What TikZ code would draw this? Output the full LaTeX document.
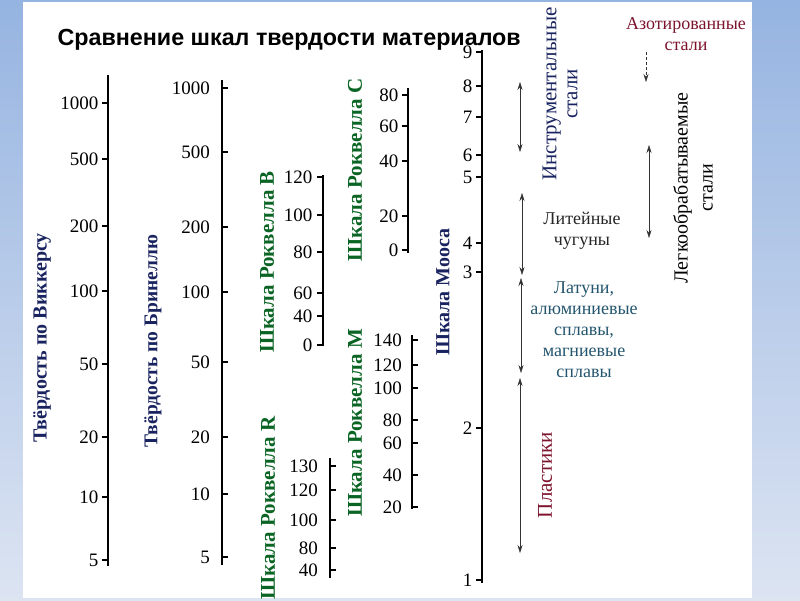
\documentclass[tikz,border=0pt]{standalone}
\usepackage{fontspec}
\setmainfont{Liberation Serif}
\newfontfamily\headfont{Liberation Sans}
\usetikzlibrary{arrows.meta,positioning}
\definecolor{navy}{RGB}{25,35,95}
\definecolor{rgreen}{RGB}{10,100,35}
\definecolor{maroon}{RGB}{125,20,45}
\definecolor{tealblue}{RGB}{35,85,110}
\definecolor{bgtop}{RGB}{150,180,225}
\definecolor{bgbot}{RGB}{220,228,242}

\begin{document}
\begin{tikzpicture}[x=1pt,y=-1pt,>={Stealth[length=8pt,width=5pt]}]
	\tikzstyle{axis}=[line width=2.2pt]
	\tikzstyle{tick}=[line width=1.4pt]
	\tikzstyle{num}=[font=\fontsize{19}{19}\selectfont,inner sep=1pt]
	\tikzstyle{scalename}=[rotate=90,font=\fontsize{21}{21}\selectfont\bfseries]
	\tikzstyle{group}=[font=\fontsize{18}{21}\selectfont,align=center]
	\tikzstyle{span}=[<->,thin,black!80]

	% background and sheet
	\fill[top color=bgtop,bottom color=bgbot] (0,0) rectangle (800,600);
	\fill[white] (23,2) rectangle (752,598);
	\useasboundingbox (0,0) rectangle (800,600);

	\node[font=\headfont\fontsize{23.3}{23}\selectfont\bfseries,anchor=west] (title) at (54,40) {Сравнение шкал твердости материалов};

	% Vickers
	\coordinate (vk-top) at (108,75);
	\coordinate (vk-bot) at (108,566);
	\draw[axis] (vk-top) -- (vk-bot);
	\foreach \v/\y in {1000/103,500/159,200/226,100/291,50/364,20/437,10/497,5/560}
		\draw[tick] (108,\y) -- ++(-6,0) node[num,left=2pt] (vk-\v) {\v};
	\node[scalename,navy,font=\fontsize{20}{20}\selectfont\bfseries] (vk-name) at (42,338) {Твёрдость по Виккерсу};

	% Brinell
	\coordinate (br-top) at (222,80);
	\coordinate (br-bot) at (222,565);
	\draw[axis] (br-top) -- (br-bot);
	\foreach \v/\y in {1000/88,500/152,200/227,100/292,50/362,20/437,10/494,5/557} {
		\draw[tick] (222,\y) -- ++(6,0);
		\node[num,anchor=east] (br-\v) at (211,\y) {\v};
	}
	\node[scalename,navy,font=\fontsize{19.5}{20}\selectfont\bfseries] (br-name) at (153,341) {Твёрдость по Бринеллю};

	% Rockwell B
	\coordinate (rb-top) at (323,175);
	\coordinate (rb-bot) at (323,346);
	\draw[axis] (rb-top) -- (rb-bot);
	\foreach \v/\y in {120/177,100/215,80/252,60/293,40/316,0/345}
		\draw[tick] (323,\y) -- ++(-6,0) node[num,left=3pt] (rb-\v) {\v};
	\node[scalename,rgreen] (rb-name) at (267,262) {Шкала Роквелла B};

	% Rockwell C
	\coordinate (rc-top) at (408,88);
	\coordinate (rc-bot) at (408,253);
	\draw[axis] (rc-top) -- (rc-bot);
	\foreach \v/\y in {80/95,60/126,40/161,20/216,0/250}
		\draw[tick] (408,\y) -- ++(-6,0) node[num,left=2pt] (rc-\v) {\v};
	\node[scalename,rgreen] (rc-name) at (355,170) {Шкала Роквелла C};

	% Rockwell R
	\coordinate (rr-top) at (330,458);
	\coordinate (rr-bot) at (330,578);
	\draw[axis] (rr-top) -- (rr-bot);
	\foreach \v/\y in {130/466,120/490,100/520,80/548,40/570} {
		\draw[tick] (330,\y) -- ++(6,0);
		\node[num,anchor=east] (rr-\v) at (319,\y) {\v};
	}
	\node[scalename,rgreen] (rr-name) at (268,508) {Шкала Роквелла R};

	% Rockwell M
	\coordinate (rm-top) at (412,335);
	\coordinate (rm-bot) at (412,509);
	\draw[axis] (rm-top) -- (rm-bot);
	\foreach \v/\y in {140/340,120/365,100/388,80/420,60/443,40/475,20/507} {
		\draw[tick] (412,\y) -- ++(6,0);
		\node[num,anchor=east] (rm-\v) at (403,\y) {\v};
	}
	\node[scalename,rgreen] (rm-name) at (355,423) {Шкала Роквелла M};

	% Mohs
	\coordinate (mo-top) at (482,50);
	\coordinate (mo-bot) at (482,583);
	\draw[axis] (mo-top) -- (mo-bot);
	\foreach \v/\y in {9/52,8/86,7/117,6/155,5/177,4/243,3/272,2/428,1/580}
		\draw[tick] (482,\y) -- ++(-6,0) node[num,left=2pt] (mo-\v) {\v};
	\node[scalename,navy,font=\fontsize{20}{20}\selectfont\bfseries] (mo-name) at (443,292) {Шкала Мооса};

	% material ranges
	\coordinate (tool-a) at (520,82);
	\coordinate (tool-b) at (520,152);
	\draw[span] (tool-a) -- (tool-b);
	\node[group,rotate=90,navy,font=\fontsize{21}{21}\selectfont] (tool) at (560,94) {Инструментальные\\стали};

	\coordinate (iron-a) at (522,193);
	\coordinate (iron-b) at (522,275);
	\draw[span] (iron-a) -- (iron-b);
	\node[group,black!85] (iron) at (582,231) {Литейные\\чугуны};

	\coordinate (brass-a) at (521,278);
	\coordinate (brass-b) at (521,373);
	\draw[span] (brass-a) -- (brass-b);
	\node[group,tealblue] (brass) at (584,330) {Латуни,\\алюминиевые\\сплавы,\\магниевые\\сплавы};

	\coordinate (plast-a) at (520,378);
	\coordinate (plast-b) at (520,553);
	\draw[span] (plast-a) -- (plast-b);
	\node[group,rotate=90,maroon,font=\fontsize{21}{21}\selectfont] (plast) at (545,475) {Пластики};

	\node[group,maroon] (nitr) at (686,34) {Азотированные\\стали};
	\coordinate (nitr-a) at (646,52);
	\coordinate (nitr-b) at (646,82);
	\draw[->,thin,black!80,densely dashed] (nitr-a) -- (nitr-b);

	\coordinate (free-a) at (649,145);
	\coordinate (free-b) at (649,238);
	\draw[span] (free-a) -- (free-b);
	\node[group,rotate=90,font=\fontsize{20}{25}\selectfont] (free) at (693,188) {Легкообрабатываемые\\стали};
\end{tikzpicture}
\end{document}
